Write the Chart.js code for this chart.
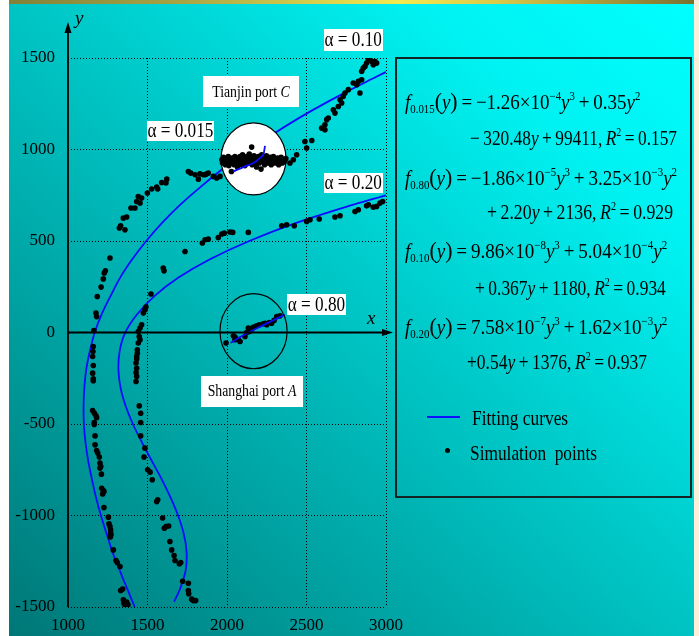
<!DOCTYPE html>
<html><head><meta charset="utf-8">
<script src="https://cdn.jsdelivr.net/npm/chart.js@4/dist/chart.umd.min.js"></script>
<style>
html,body{margin:0;padding:0;}
body{width:699px;height:636px;overflow:hidden;position:relative;
 background:linear-gradient(to top right,#007676 0%,#00bcbc 45%,#00f2f2 80%,#00ffff 100%);
 font-family:'Liberation Serif','Times New Roman',serif;}
#lw{position:absolute;left:0;top:0;width:9px;height:636px;background:#fff;}
#tb{position:absolute;left:9px;top:0;width:685px;height:4px;
 background:linear-gradient(to right,#828238 0%,#a8a444 25%,#f6ea4e 57%,#d8c848 72%,#7a7030 100%);}
#rc{position:absolute;left:694px;top:0;width:5px;height:636px;background:#fcf0d8;}
canvas{position:absolute;left:0;top:0;}
#box{position:absolute;left:395px;top:57px;width:297px;height:441px;box-sizing:border-box;border:2px solid #142424;}
.eq{position:absolute;white-space:nowrap;font-size:21px;line-height:22px;color:#000;transform-origin:0 50%;}
.eq sub,.eq sup{font-size:12px;vertical-align:baseline;position:relative;line-height:0;}
.eq sub{top:4px;} .eq sup{top:-9px;}
.eq .p{font-size:24px;}
</style></head>
<body>
<div id="lw"></div><div id="tb"></div><div id="rc"></div>
<canvas id="c" width="699" height="636"></canvas>
<div id="box"></div>
<div class="eq" data-w="235" style="left:405px;top:90px"><i>f</i><sub>0.015</sub><span class="p">(</span><i>y</i><span class="p">)</span>&thinsp;=&thinsp;−1.26×10<sup>−4</sup><i>y</i><sup>3</sup>&thinsp;+&thinsp;0.35<i>y</i><sup>2</sup></div>
<div class="eq" data-w="207" style="left:470px;top:127px">−&thinsp;320.48<i>y</i>&thinsp;+&thinsp;99411,&thinsp;<i>R</i><sup>2</sup>&thinsp;=&thinsp;0.157</div>
<div class="eq" data-w="272" style="left:405px;top:166px"><i>f</i><sub>0.80</sub><span class="p">(</span><i>y</i><span class="p">)</span>&thinsp;=&thinsp;−1.86×10<sup>−5</sup><i>y</i><sup>3</sup>&thinsp;+&thinsp;3.25×10<sup>−3</sup><i>y</i><sup>2</sup></div>
<div class="eq" data-w="186" style="left:487px;top:201px">+&thinsp;2.20<i>y</i>&thinsp;+&thinsp;2136,&thinsp;<i>R</i><sup>2</sup>&thinsp;=&thinsp;0.929</div>
<div class="eq" data-w="262" style="left:405px;top:239px"><i>f</i><sub>0.10</sub><span class="p">(</span><i>y</i><span class="p">)</span>&thinsp;=&thinsp;9.86×10<sup>−8</sup><i>y</i><sup>3</sup>&thinsp;+&thinsp;5.04×10<sup>−4</sup><i>y</i><sup>2</sup></div>
<div class="eq" data-w="191" style="left:475px;top:277px">+&thinsp;0.367<i>y</i>&thinsp;+&thinsp;1180,&thinsp;<i>R</i><sup>2</sup>&thinsp;=&thinsp;0.934</div>
<div class="eq" data-w="262" style="left:405px;top:315px"><i>f</i><sub>0.20</sub><span class="p">(</span><i>y</i><span class="p">)</span>&thinsp;=&thinsp;7.58×10<sup>−7</sup><i>y</i><sup>3</sup>&thinsp;+&thinsp;1.62×10<sup>−3</sup><i>y</i><sup>2</sup></div>
<div class="eq" data-w="180" style="left:467px;top:351px">+0.54<i>y</i>&thinsp;+&thinsp;1376,&thinsp;<i>R</i><sup>2</sup>&thinsp;=&thinsp;0.937</div>
<div style="position:absolute;left:427px;top:416px;width:33px;height:2px;background:#1010ff"></div>
<div class="eq" data-w="96" style="left:472px;top:407px">Fitting curves</div>
<div style="position:absolute;left:445px;top:448px;width:5px;height:5px;border-radius:50%;background:#000"></div>
<div class="eq" data-w="127" style="left:470px;top:442px">Simulation&nbsp; points</div>
<script>
// ---------------- data ----------------
const xTicks = [1000, 1500, 2000, 2500, 3000];
const yTicks = [-1500, -1000, -500, 0, 500, 1000, 1500];

// simulation points, alpha = 0.10 (left / upper branch)
const sim010 = [
 [1364,-1500],[1377,-1488],[1360,-1497],[1369,-1473],[1352,-1479],[1348,-1461],[1344,-1402],[1331,-1410],
 [1327,-1279],[1310,-1257],[1302,-1246],[1285,-1188],[1266,-1118],[1270,-1106],[1268,-1096],[1268,-1078],
 [1264,-1060],[1258,-1046],[1254,-1009],[1226,-956],[1218,-882],[1226,-869],[1222,-864],[1212,-851],
 [1210,-774],[1201,-741],[1206,-732],[1201,-714],[1197,-681],[1187,-659],[1180,-645],[1170,-614],
 [1170,-565],[1165,-503],[1165,-492],[1180,-466],[1176,-455],[1166,-441],[1155,-426],[1159,-264],
 [1159,-253],[1155,-222],[1159,-180],[1155,-131],[1157,-104],[1159,-77],[1163,11],[1180,87],
 [1176,106],[1184,197],[1208,248],[1222,293],[1228,325],[1235,337],[1264,407],[1358,561],
 [1323,571],[1331,583],[1348,625],[1369,631],[1396,680],[1421,680],[1453,707],[1432,716],
 [1463,735],[1442,743],[1499,762],[1526,784],[1564,784],[1558,795],[1589,820],[1616,817],
 [1621,838],[1757,880],[1772,871],[1799,862],[1820,838],[1830,867],[1851,862],[1862,862],
 [1872,867],[1882,871],[1914,853],[1935,844],[1956,853],
 [2396,926],[2417,944],[2438,971],[2490,1044],[2501,1008],[2533,1049],[2595,1117],[2616,1108],
 [2616,1135],[2627,1163],[2637,1172],[2669,1217],[2679,1199],[2700,1235],[2711,1272],[2721,1254],
 [2731,1290],[2742,1309],[2763,1327],[2794,1363],[2816,1354],[2826,1372],[2836,1309],[2847,1381],
 [2847,1427],[2857,1445],[2868,1454],[2878,1472],[2889,1490],[2899,1500],[2910,1481],[2920,1463],
 [2931,1481],[2941,1472]
];

// simulation points, alpha = 0.015 (Tianjin port C cluster)
const sim0015 = [
 [1968,944],[1972,926],[1978,958],[1985,935],[1990,917],[1995,950],[2002,930],[2008,962],[2012,912],
 [2018,944],[2022,926],[2028,880],[2033,953],[2038,935],[2045,917],[2050,962],[2055,944],[2060,926],
 [2066,905],[2070,953],[2076,935],[2082,962],[2088,917],[2092,944],[2098,971],[2103,930],[2108,953],
 [2113,912],[2118,940],[2124,962],[2130,926],[2134,948],[2140,975],[2145,935],[2150,958],[2155,1013],
 [2158,917],[2164,944],[2170,966],[2176,930],[2182,953],[2186,905],[2192,940],[2197,962],[2203,926],
 [2208,948],[2214,893],[2218,971],[2224,935],[2230,953],[2236,917],[2242,944],[2248,966],[2254,926],
 [2260,948],[2266,935],[2272,958],[2278,917],[2285,944],[2292,962],[2298,926],[2304,948],[2310,935],
 [2318,953],[2325,917],[2332,940],[2340,958],[2348,926],[2355,944],[2362,935],[2370,950]
];

// simulation points, alpha = 0.20 (inner branch)
const sim020 = [
 [1778,-1457],[1788,-1465],[1803,-1465],[1757,-1410],[1759,-1428],[1757,-1370],[1721,-1359],[1700,-1264],
 [1709,-1257],[1667,-1219],[1673,-1246],[1652,-1188],[1641,-1142],[1606,-1069],[1616,-1060],[1633,-1057],
 [1595,-1014],[1558,-924],[1564,-914],[1530,-805],[1516,-763],[1501,-750],[1478,-681],[1484,-632],
 [1457,-565],[1457,-492],[1457,-441],[1448,-401],[1428,-268],[1432,-240],[1428,-219],[1432,-195],
 [1428,-167],[1432,-145],[1432,-131],[1436,-113],[1436,-95],[1442,-58],[1453,-40],[1448,-22],
 [1442,5],[1453,24],[1463,42],[1474,106],[1484,124],[1490,139],[1522,210],[1599,352],[1604,337],
 [1736,443],[1845,489],[1862,507],[1882,510],[1945,519],[1967,538],[1983,543],[2019,549],[2036,547],
 [2134,547],[2344,583],[2375,589],[2423,583],[2501,607],[2522,616],[2580,620],[2679,631],[2711,638],
 [2805,661],[2826,671],[2878,692],[2889,698],[2920,685],[2941,689],[2962,707],[2979,716]
];

// simulation points, alpha = 0.80 (Shanghai port A)
const sim080 = [
 [1994,-58],[2040,-18],[2050,-25],[2050,-40],[2071,-38],[2082,-49],[2113,-22],[2124,0],[2134,24],
 [2140,5],[2149,11],[2155,18],[2162,27],[2170,30],[2187,37],[2203,42],[2228,48],[2240,50],[2250,42],
 [2266,55],[2281,51],[2296,66],[2313,87],[2333,91]
];

// fitting curves
const fit010 = [
 [1420,-1500],[1372,-1400],[1325,-1300],[1280,-1200],[1243,-1100],[1207,-1000],[1176,-900],[1150,-800],
 [1127,-700],[1110,-600],[1100,-500],[1098,-400],[1103,-300],[1115,-200],[1138,-100],[1168,0],
 [1212,100],[1268,200],[1328,300],[1404,400],[1492,500],[1593,600],[1708,700],[1840,800],[1982,900],
 [2142,1000],[2318,1100],[2508,1200],[2718,1300],[2945,1400],[3000,1424]
];
const fit020 = [
 [1668,-1470],[1705,-1400],[1740,-1300],[1746,-1200],[1728,-1100],[1692,-1000],[1644,-900],[1588,-800],
 [1526,-700],[1465,-600],[1408,-500],[1362,-400],[1330,-300],[1317,-200],[1325,-100],[1360,0],
 [1435,100],[1545,200],[1695,300],[1893,400],[2140,500],[2440,600],[2800,700],[3000,750]
];
const fit0015 = [[2040,880],[2103,904],[2166,926],[2207,953],[2228,971],[2239,1020]];
const fit080 = [[2023,-58],[2072,-30],[2136,0],[2204,30],[2275,60],[2363,97]];

// annotation texts
const labelTexts = {
 a010: [{t:'α = 0.10'}],
 a0015: [{t:'α = 0.015'}],
 a020: [{t:'α = 0.20'}],
 a080: [{t:'α = 0.80'}],
 tianjin: [{t:'Tianjin port '},{t:'C',i:true}],
 shanghai: [{t:'Shanghai port '},{t:'A',i:true}]
};

// ---------------- drawing ----------------
const toXY = a => a.map(p => ({x:p[0], y:p[1]}));
const FONT = '"Liberation Serif","Times New Roman",serif';
const BLUE = '#0c0cff';

const ptsDS = (d) => ({data:toXY(d), showLine:false, pointRadius:2.8, pointHoverRadius:2.8,
  backgroundColor:'#000', borderWidth:0, order:1});
const lineDS = (d, ord) => ({data:toXY(d), showLine:true, pointRadius:0, borderColor:BLUE,
  borderWidth:1.8, tension:0.35, fill:false, order:ord});

const datasets = [
  lineDS(fit020, 3),      // 0
  lineDS(fit010, 2),      // 1  (Tianjin disc drawn right after this)
  ptsDS(sim010),          // 2
  ptsDS(sim0015),         // 3
  ptsDS(sim020),          // 4
  ptsDS(sim080),          // 5
  lineDS(fit0015, 0),     // 6
  lineDS(fit080, 0)       // 7
];

function ellipse(ctx, chart, X, Y, rX, rY, fill) {
  const xs = chart.scales.x, ys = chart.scales.y;
  const cx = xs.getPixelForValue(X), cy = ys.getPixelForValue(Y);
  const rx = Math.abs(xs.getPixelForValue(X + rX) - cx), ry = Math.abs(ys.getPixelForValue(Y + rY) - cy);
  ctx.save();
  ctx.beginPath(); ctx.ellipse(cx, cy, rx, ry, 0, 0, Math.PI*2);
  if (fill) { ctx.fillStyle = '#fff'; ctx.fill(); }
  ctx.lineWidth = 1.2; ctx.strokeStyle = '#000'; ctx.stroke();
  ctx.restore();
}

function label(ctx, chart, parts, X, Y, w, h, size, sx) {
  const cx = chart.scales.x.getPixelForValue(X), cy = chart.scales.y.getPixelForValue(Y);
  ctx.save();
  ctx.fillStyle = '#fff'; ctx.fillRect(Math.round(cx - w/2), Math.round(cy - h/2), w, h);
  let total = 0;
  parts.forEach(p => { ctx.font = (p.i ? 'italic ' : '') + size + 'px ' + FONT; p.w = ctx.measureText(p.t).width; total += p.w; });
  ctx.translate(cx, cy + 1); ctx.scale(sx, 1);
  let x = -total/2;
  ctx.fillStyle = '#000'; ctx.textBaseline = 'middle'; ctx.textAlign = 'left';
  parts.forEach(p => { ctx.font = (p.i ? 'italic ' : '') + size + 'px ' + FONT; ctx.fillText(p.t, x, 0); x += p.w; });
  ctx.restore();
}

const deco = {
  id: 'deco',
  afterDatasetDraw(chart, args) {
    if (args.index === 1) ellipse(chart.ctx, chart, 2167, 949, 204, 197, true);
  },
  afterDraw(chart) {
    const ctx = chart.ctx, xs = chart.scales.x, ys = chart.scales.y;
    const x0 = xs.getPixelForValue(1000), y0 = ys.getPixelForValue(0);
    const yb = ys.getPixelForValue(-1500), xr = xs.getPixelForValue(3000);
    ctx.save();
    ctx.strokeStyle = '#000'; ctx.fillStyle = '#000'; ctx.lineWidth = 1.8;
    // y axis with arrow
    const yTop = chart.chartArea.top - 36;
    ctx.beginPath(); ctx.moveTo(x0, yb); ctx.lineTo(x0, yTop + 8); ctx.stroke();
    ctx.beginPath(); ctx.moveTo(x0, yTop); ctx.lineTo(x0 - 3.5, yTop + 11); ctx.lineTo(x0 + 3.5, yTop + 11); ctx.closePath(); ctx.fill();
    // x axis with arrow
    const xEnd = xr + 7;
    ctx.beginPath(); ctx.moveTo(x0, y0); ctx.lineTo(xEnd - 8, y0); ctx.stroke();
    ctx.beginPath(); ctx.moveTo(xEnd, y0); ctx.lineTo(xEnd - 11, y0 - 3.5); ctx.lineTo(xEnd - 11, y0 + 3.5); ctx.closePath(); ctx.fill();
    // axis letters
    ctx.font = 'italic 19px ' + FONT; ctx.textBaseline = 'middle'; ctx.textAlign = 'left';
    ctx.fillText('y', x0 + 7, yTop - 3);
    ctx.fillText('x', xr - 19, y0 - 14);
    ctx.restore();
    // Shanghai circle
    ellipse(ctx, chart, 2167, 7, 211, 205, false);
    // labels
    label(ctx, chart, labelTexts.a010, 2794, 1600, 59, 22, 20, 0.86);
    label(ctx, chart, labelTexts.tianjin, 2151, 1318, 96, 31, 16, 0.86);
    label(ctx, chart, labelTexts.a0015, 1707, 1102, 67, 20, 20, 0.86);
    label(ctx, chart, labelTexts.a020, 2794, 818, 59, 20, 20, 0.86);
    label(ctx, chart, labelTexts.a080, 2563, 154, 59, 21, 20, 0.86);
    label(ctx, chart, labelTexts.shanghai, 2157, -321, 102, 31, 16, 0.86);
  }
};

const tickFont = {family: 'Liberation Serif', size: 17};
new Chart(document.getElementById('c'), {
  type: 'scatter',
  data: {datasets},
  options: {
    responsive: false, animation: false, devicePixelRatio: 1,
    layout: {padding: {left: 0, top: 58, right: 313, bottom: 0}},
    plugins: {legend: {display: false}, tooltip: {enabled: false}},
    scales: {
      x: {type: 'linear', min: 1000, max: 3000,
        afterBuildTicks: s => { s.ticks = xTicks.map(v => ({value: v})); },
        afterFit: s => { s.height = 29; },
        ticks: {color: '#000', font: tickFont, padding: 8, maxRotation: 0, callback: v => String(v)},
        grid: {color: c => (c.tick && c.tick.value === 1000) ? 'rgba(0,0,0,0)' : '#000', lineWidth: 1, drawTicks: false},
        border: {display: false, dash: [1, 2]}},
      y: {type: 'linear', min: -1500, max: 1500,
        afterBuildTicks: s => { s.ticks = yTicks.map(v => ({value: v})); },
        afterFit: s => { s.width = 68; },
        ticks: {color: '#000', font: tickFont, padding: 13, callback: v => String(v)},
        grid: {color: c => (c.tick && c.tick.value === 0) ? 'rgba(0,0,0,0)' : '#000', lineWidth: 1, drawTicks: false},
        border: {display: false, dash: [1, 2]}}
    }
  },
  plugins: [deco]
});

// fit equation lines to their widths
document.querySelectorAll('.eq').forEach(el => {
  const t = +el.dataset.w, w = el.offsetWidth;
  if (t && w) el.style.transform = 'scaleX(' + (t / w).toFixed(3) + ')';
});
</script>
</body></html>
